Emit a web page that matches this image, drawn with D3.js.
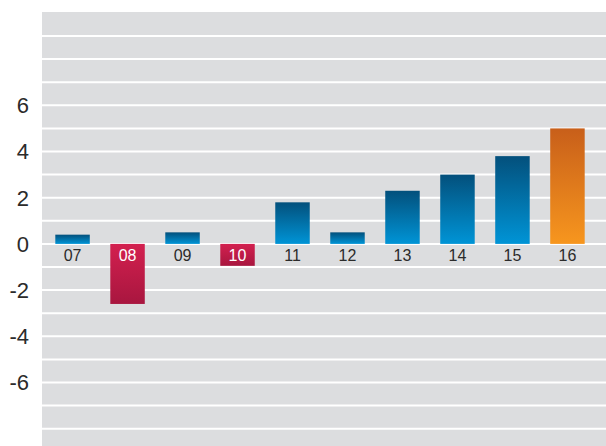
<!DOCTYPE html>
<html>
<head>
<meta charset="utf-8">
<script src="https://cdn.jsdelivr.net/npm/d3@7"></script>
<style>
  body { margin: 0; background: #fff; }
  svg { display: block; font-family: "Liberation Sans", Arial, Helvetica, sans-serif; }
</style>
</head>
<body>
<script>
// data
const years = ["07", "08", "09", "10", "11", "12", "13", "14", "15", "16"];
const values = [0.4, -2.6, 0.5, -0.95, 1.8, 0.5, 2.3, 3.0, 3.8, 5.0];
const kinds = ["blue", "red", "blue", "red", "blue", "blue", "blue", "blue", "blue", "orange"];
const yTicks = [6, 4, 2, 0, -2, -4, -6];
const gridLines = d3.range(-8, 10);

const width = 606, height = 446;
const plot = { left: 42, right: 606, top: 12, bottom: 446 };

const svg = d3.select("body").append("svg")
  .attr("width", width)
  .attr("height", height);

// gradients
const defs = svg.append("defs");
const grads = {
  blue: ["#03507c", "#0094d6"],
  red: ["#d3204f", "#a8163f"],
  orange: ["#c85f1a", "#f7961e"]
};
Object.entries(grads).forEach(([k, c]) => {
  const g = defs.append("linearGradient")
    .attr("id", "g-" + k)
    .attr("x1", 0).attr("y1", 0).attr("x2", 0).attr("y2", 1);
  g.append("stop").attr("offset", "0%").attr("stop-color", c[0]);
  g.append("stop").attr("offset", "100%").attr("stop-color", c[1]);
});

// scales
const x = d3.scaleBand()
  .domain(years)
  .range([plot.left, 598])
  .paddingInner(0.373)
  .paddingOuter(0.242);

const y = d3.scaleLinear()
  .domain([-8.75, 10.04])
  .range([plot.bottom, plot.top]);

// background
svg.append("rect")
  .attr("x", plot.left)
  .attr("y", plot.top)
  .attr("width", plot.right - plot.left)
  .attr("height", plot.bottom - plot.top)
  .attr("fill", "#dcdddf");

// grid
svg.append("g")
  .selectAll("line")
  .data(gridLines)
  .join("line")
  .attr("x1", plot.left)
  .attr("x2", plot.right)
  .attr("y1", d => y(d))
  .attr("y2", d => y(d))
  .attr("stroke", "#fff")
  .attr("stroke-width", 2);

// y labels
svg.append("g")
  .selectAll("text")
  .data(yTicks)
  .join("text")
  .attr("x", 29)
  .attr("y", d => y(d))
  .attr("dy", "0.36em")
  .attr("text-anchor", "end")
  .attr("font-size", 22)
  .attr("fill", "#2b2b2b")
  .text(d => d);

// bars
const data = years.map((d, i) => ({ year: d, value: values[i], kind: kinds[i] }));

svg.append("g")
  .selectAll("rect")
  .data(data)
  .join("rect")
  .attr("x", d => x(d.year))
  .attr("width", x.bandwidth())
  .attr("y", d => y(Math.max(0, d.value)))
  .attr("height", d => Math.abs(y(d.value) - y(0)))
  .attr("fill", d => `url(#g-${d.kind})`);

// category labels
svg.append("g")
  .selectAll("text")
  .data(data)
  .join("text")
  .attr("x", d => x(d.year) + x.bandwidth() / 2)
  .attr("y", y(0) + 17)
  .attr("text-anchor", "middle")
  .attr("font-size", 16)
  .attr("fill", d => d.value < 0 ? "#fff" : "#2b2b2b")
  .text(d => d.year);
</script>
</body>
</html>
